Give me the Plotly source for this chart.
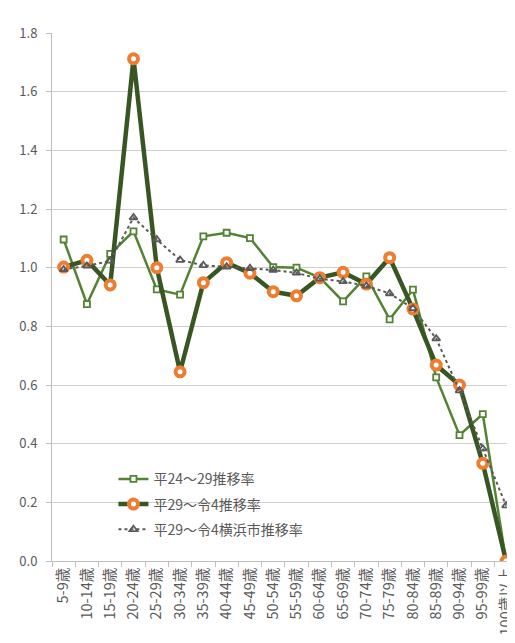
import plotly.graph_objects as go

ages = ["5-9歳", "10-14歳", "15-19歳", "20-24歳", "25-29歳", "30-34歳", "35-39歳",
        "40-44歳", "45-49歳", "50-54歳", "55-59歳", "60-64歳", "65-69歳", "70-74歳",
        "75-79歳", "80-84歳", "85-89歳", "90-94歳", "95-99歳", "100歳以上"]

# 平24～29推移率
rate_h24_29 = [1.096, 0.876, 1.047, 1.124, 0.926, 0.908, 1.107, 1.119, 1.101, 1.002,
               1.000, 0.966, 0.885, 0.970, 0.824, 0.925, 0.626, 0.429, 0.501, 0.0]
# 平29～令4推移率
rate_h29_r4 = [1.002, 1.025, 0.941, 1.712, 1.000, 0.645, 0.949, 1.017, 0.981, 0.918,
               0.904, 0.966, 0.984, 0.944, 1.034, 0.859, 0.668, 0.600, 0.333, 0.0]
# 平29～令4横浜市推移率
rate_yokohama = [0.994, 1.006, 1.023, 1.171, 1.096, 1.026, 1.008, 1.003, 0.998, 0.992,
                 0.982, 0.962, 0.953, 0.938, 0.912, 0.861, 0.758, 0.581, 0.383, 0.189]

ytick_vals = [0, 0.2, 0.4, 0.6, 0.8, 1.0, 1.2, 1.4, 1.6, 1.8]

text_col = "#595959"
font_jp = "Noto Sans CJK JP"

fig = go.Figure()

fig.add_trace(go.Scatter(
    x=ages, y=rate_h24_29, name="平24～29推移率", mode="lines+markers",
    line=dict(color="#548235", width=2.5),
    marker=dict(symbol="square", size=6, color="white", line=dict(color="#548235", width=1.8)),
    legendgroup="a"))

fig.add_trace(go.Scatter(
    x=ages, y=rate_h29_r4, name="平29～令4推移率", mode="lines+markers",
    line=dict(color="#375623", width=4.5),
    marker=dict(symbol="circle", size=9, color="white", line=dict(color="#ED7D31", width=4)),
    legendgroup="b"))

fig.add_trace(go.Scatter(
    x=ages, y=rate_yokohama, name="平29～令4横浜市推移率", mode="lines+markers",
    line=dict(color=text_col, width=2, dash="dot"),
    marker=dict(symbol="triangle-up-open", size=7, color=text_col, line=dict(color=text_col, width=1.8)),
    legendgroup="c"))

# page body adds 8px margins; the last category is cut at the right edge like the original
fig.update_layout(
    width=507, height=627,
    margin=dict(l=44, r=0, t=25, b=69),
    paper_bgcolor="white", plot_bgcolor="white",
    font=dict(family=font_jp, size=12, color=text_col),
    showlegend=True,
    legend=dict(x=0.135, y=0.185, xanchor="left", yanchor="top",
                bgcolor="rgba(0,0,0,0)", font=dict(size=14, color=text_col),
                traceorder="grouped", tracegroupgap=4),
)

fig.update_xaxes(
    type="category", range=[-0.5, 19.04],
    tickangle=-90, tickson="boundaries", ticks="outside", ticklen=5, tickcolor="#bfbfbf",
    showline=True, linecolor="#bfbfbf", linewidth=1, showgrid=False,
    tickfont=dict(size=14.5, color=text_col, family=font_jp))

fig.update_yaxes(
    range=[0, 1.8], tickvals=ytick_vals, tickformat=".1f",
    showgrid=True, gridcolor="#cfcfcf", gridwidth=1,
    showline=True, linecolor="#bfbfbf", linewidth=1,
    zeroline=False, ticks="outside", ticklen=5, tickcolor="#bfbfbf", ticklabelstandoff=6,
    tickfont=dict(size=13, color=text_col, family=font_jp))

fig.write_html("out.html")
